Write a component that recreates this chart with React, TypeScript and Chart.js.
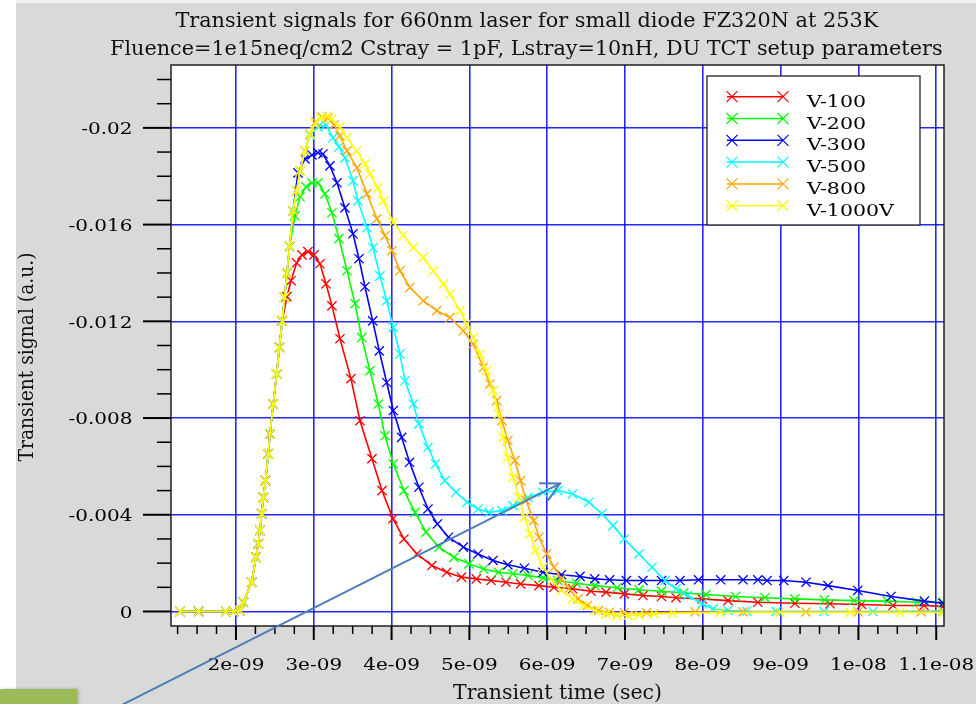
import { useEffect, useRef } from "react";
import { Chart, registerables } from "chart.js";

Chart.register(...registerables);

// ---- data -------------------------------------------------------------
const seriesLabels = ["V-100", "V-200", "V-300", "V-500", "V-800", "V-1000V"];
const seriesColors = ["#ff0000", "#00ff00", "#0000ff", "#00ffff", "#ffa500", "#ffff00"];

// shared leading edge: flat baseline, then the laser-driven rise (time in ns)
const leadTimeNs = [1.28, 1.52, 1.87, 1.97, 2.051, 2.094, 2.202, 2.257, 2.287, 2.308, 2.33, 2.351, 2.38, 2.415, 2.437, 2.479, 2.523, 2.557, 2.595, 2.625, 2.655, 2.69, 2.733, 2.78, 2.823, 2.887, 2.951, 3.015, 3.08, 3.166, 3.23];
const leadSignal = [0, 0, 0, 0, -0.00004, -0.00038, -0.00121, -0.00224, -0.0028, -0.00335, -0.00404, -0.00472, -0.00541, -0.00652, -0.00734, -0.00858, -0.00982, -0.01092, -0.01202, -0.013, -0.014, -0.0151, -0.01657, -0.0174, -0.01822, -0.01905, -0.01975, -0.02016, -0.02041, -0.02049, -0.02037];

const v100TimeNs = [...leadTimeNs.slice(0, 19), 2.656, 2.707, 2.78, 2.848, 2.925, 3.003, 3.08, 3.157, 3.234, 3.337, 3.478, 3.594, 3.748, 3.877, 4.018, 4.159, 4.326, 4.518, 4.708, 4.898, 5.089, 5.278, 5.47, 5.659, 5.895, 6.087, 6.326, 6.563, 6.756, 6.992, 7.231, 7.469, 7.656, 7.99, 8.324, 8.707, 9.183, 9.635, 10.04, 10.445, 10.843, 11.088];
const v100Signal = [...leadSignal.slice(0, 19), -0.01302, -0.01368, -0.01442, -0.01475, -0.01488, -0.01475, -0.01438, -0.01355, -0.01264, -0.01128, -0.00963, -0.00789, -0.00632, -0.005, -0.00384, -0.003, -0.00238, -0.0019, -0.00162, -0.00142, -0.00135, -0.00128, -0.00121, -0.00114, -0.00107, -0.001, -0.00094, -0.00084, -0.0008, -0.00073, -0.00066, -0.00062, -0.00057, -0.00052, -0.00045, -0.00038, -0.00034, -0.00032, -0.00029, -0.00025, -0.00025, -0.00021];

const v200TimeNs = [...leadTimeNs.slice(0, 22), 2.758, 2.823, 2.9, 2.977, 3.054, 3.144, 3.234, 3.324, 3.427, 3.53, 3.616, 3.722, 3.829, 3.915, 4.022, 4.159, 4.301, 4.442, 4.609, 4.802, 4.995, 5.184, 5.374, 5.56, 5.753, 5.946, 6.136, 6.374, 6.612, 6.897, 7.18, 7.469, 7.754, 8.041, 8.422, 8.799, 9.183, 9.563, 9.943, 10.373, 10.753, 11.087];
const v200Signal = [...leadSignal.slice(0, 22), -0.01636, -0.01715, -0.01756, -0.01773, -0.01773, -0.01727, -0.01649, -0.01542, -0.01409, -0.01273, -0.01133, -0.00996, -0.00858, -0.00727, -0.0061, -0.005, -0.0041, -0.00328, -0.00266, -0.00224, -0.00197, -0.00176, -0.00162, -0.00156, -0.00149, -0.00139, -0.00128, -0.00117, -0.00107, -0.00098, -0.0009, -0.00084, -0.00077, -0.0007, -0.00062, -0.00057, -0.00052, -0.00048, -0.00045, -0.00043, -0.00038, -0.00038];

const v300TimeNs = [...leadTimeNs.slice(0, 23), 2.797, 2.887, 2.977, 3.054, 3.118, 3.208, 3.298, 3.401, 3.504, 3.581, 3.658, 3.757, 3.842, 3.937, 4.022, 4.13, 4.231, 4.351, 4.468, 4.589, 4.731, 4.922, 5.111, 5.303, 5.494, 5.707, 5.946, 6.184, 6.422, 6.612, 6.802, 7.017, 7.231, 7.469, 7.707, 7.945, 8.23, 8.517, 8.707, 8.825, 9.04, 9.326, 9.609, 9.992, 10.419, 10.848, 11.087];
const v300Signal = [...leadSignal.slice(0, 23), -0.01814, -0.01872, -0.01888, -0.01897, -0.01892, -0.01843, -0.01773, -0.01669, -0.01562, -0.01459, -0.01343, -0.01202, -0.01078, -0.00947, -0.00831, -0.0072, -0.00617, -0.00514, -0.00424, -0.00362, -0.00307, -0.00266, -0.00238, -0.00211, -0.00193, -0.00179, -0.00162, -0.00152, -0.00145, -0.00135, -0.00131, -0.00128, -0.00128, -0.00128, -0.00128, -0.00131, -0.00131, -0.00131, -0.00131, -0.00128, -0.00128, -0.00121, -0.00107, -0.00087, -0.00062, -0.00043, -0.00034];

const v500TimeNs = [...leadTimeNs.slice(0, 26), 2.951, 3.054, 3.157, 3.247, 3.324, 3.401, 3.504, 3.568, 3.684, 3.761, 3.851, 3.937, 4.022, 4.108, 4.172, 4.279, 4.351, 4.468, 4.566, 4.684, 4.828, 4.969, 5.111, 5.252, 5.419, 5.56, 5.753, 5.946, 6.136, 6.326, 6.537, 6.704, 6.846, 6.992, 7.18, 7.347, 7.514, 7.656, 7.802, 7.99, 8.131, 8.324, 8.564, 8.941, 9.558, 10.188, 11.087];
const v500Signal = [...leadSignal.slice(0, 26), -0.01971, -0.02004, -0.02012, -0.01959, -0.01921, -0.01876, -0.01781, -0.01698, -0.01587, -0.01504, -0.01388, -0.01285, -0.01175, -0.01065, -0.00954, -0.00858, -0.00776, -0.00679, -0.0061, -0.00541, -0.00493, -0.00452, -0.00424, -0.0041, -0.00417, -0.00438, -0.00472, -0.00493, -0.005, -0.00486, -0.00452, -0.00404, -0.00355, -0.003, -0.00238, -0.00183, -0.00128, -0.00094, -0.00066, -0.00032, -0.00011, -0.00004, -0.00001, 0, 0, 0, -0.00002];

const v800TimeNs = [...leadTimeNs.slice(0, 27), 3.028, 3.105, 3.183, 3.26, 3.337, 3.427, 3.555, 3.684, 3.812, 3.915, 4.005, 4.108, 4.237, 4.407, 4.58, 4.751, 4.922, 5.05, 5.179, 5.265, 5.351, 5.419, 5.494, 5.586, 5.659, 5.728, 5.827, 5.895, 5.994, 6.087, 6.184, 6.28, 6.396, 6.517, 6.659, 6.802, 6.992, 7.279, 7.9, 8.517, 9.326, 9.995, 10.805, 11.087];
const v800Signal = [...leadSignal.slice(0, 27), -0.02025, -0.02045, -0.02041, -0.02012, -0.01967, -0.01905, -0.01835, -0.01727, -0.01624, -0.01554, -0.01492, -0.01409, -0.0134, -0.01285, -0.01244, -0.01216, -0.01161, -0.01106, -0.01009, -0.00941, -0.00872, -0.00789, -0.00707, -0.00624, -0.00541, -0.00459, -0.00376, -0.00307, -0.00238, -0.00183, -0.00135, -0.00094, -0.00052, -0.00025, -0.00004, 0.00003, 0.00005, 0.00005, 0.00002, 0.00002, 0.00002, 0.00002, 0.00002, 0.00002];

const v1000TimeNs = [...leadTimeNs, 3.337, 3.427, 3.551, 3.658, 3.722, 3.825, 3.893, 4.022, 4.15, 4.279, 4.407, 4.536, 4.665, 4.751, 4.879, 4.965, 5.05, 5.136, 5.222, 5.307, 5.372, 5.436, 5.494, 5.56, 5.638, 5.707, 5.779, 5.851, 5.946, 6.062, 6.184, 6.326, 6.469, 6.612, 6.756, 6.897, 7.039, 7.18, 7.373, 7.612, 8.221, 8.992, 9.892, 10.535, 11.087];
const v1000Signal = [...leadSignal, -0.02004, -0.01959, -0.01905, -0.01851, -0.0181, -0.01752, -0.01698, -0.01609, -0.01555, -0.01505, -0.01464, -0.01409, -0.01354, -0.01313, -0.01244, -0.01189, -0.01133, -0.01065, -0.00996, -0.00913, -0.00817, -0.0072, -0.00638, -0.00555, -0.00472, -0.0039, -0.00321, -0.00252, -0.00183, -0.00128, -0.00087, -0.00052, -0.00025, -0.00004, 0.0001, 0.00017, 0.00017, 0.00014, 0.0001, 0.00007, 0.00004, 0.00004, 0.00004, 0.00004, 0.00004];

const seriesTimes = [v100TimeNs, v200TimeNs, v300TimeNs, v500TimeNs, v800TimeNs, v1000TimeNs];
const seriesSignals = [v100Signal, v200Signal, v300Signal, v500Signal, v800Signal, v1000Signal];

// axes
const xRangeNs = [1.165, 11.1];
const yRange = [-0.0226, 0.0006];
const xTickNs = [2, 3, 4, 5, 6, 7, 8, 9, 10, 11];
const xTickLabels = ["2e-09", "3e-09", "4e-09", "5e-09", "6e-09", "7e-09", "8e-09", "9e-09", "1e-08", "1.1e-08"];
const yTickValues = [-0.02, -0.016, -0.012, -0.008, -0.004, 0];
const yTickLabels = ["-0.02", "-0.016", "-0.012", "-0.008", "-0.004", "0"];

const titleLines = [
  "Transient signals for 660nm laser for small diode FZ320N at 253K",
  "Fluence=1e15neq/cm2 Cstray = 1pF, Lstray=10nH, DU TCT setup parameters",
];
const xTitle = "Transient time (sec)";
const yTitle = "Transient signal (a.u.)";

// callout arrow towards the second bump of V-500
const arrowFrom = { timeNs: 0.548, signal: 0.00384 };
const arrowTo = { timeNs: 6.164, signal: -0.00529 };

// ---- drawing helpers ----------------------------------------------------
const FONT = '"DejaVu Serif", serif';

function drawText(ctx: CanvasRenderingContext2D, text: string, x: number, y: number, size: number, sx: number, align: "left" | "center" | "right") {
  ctx.save();
  ctx.font = `${size}px ${FONT}`;
  ctx.textAlign = "left";
  ctx.textBaseline = "alphabetic";
  const w = ctx.measureText(text).width * sx;
  const x0 = align === "center" ? x - w / 2 : align === "right" ? x - w : x;
  ctx.translate(x0, y);
  ctx.scale(sx, 1);
  ctx.fillText(text, 0, 0);
  ctx.restore();
}

function drawFitted(ctx: CanvasRenderingContext2D, text: string, cx: number, y: number, size: number, width: number) {
  ctx.save();
  ctx.font = `${size}px ${FONT}`;
  const sx = width / ctx.measureText(text).width;
  ctx.restore();
  drawText(ctx, text, cx, y, size, sx, "center");
}

function drawCross(ctx: CanvasRenderingContext2D, x: number, y: number, h: number) {
  ctx.beginPath();
  ctx.moveTo(x - h, y - h);
  ctx.lineTo(x + h, y + h);
  ctx.moveTo(x - h, y + h);
  ctx.lineTo(x + h, y - h);
  ctx.stroke();
}

const framePlugin = {
  id: "frame",
  beforeDraw(chart: any) {
    const { ctx, width, height, chartArea: a } = chart;
    ctx.save();
    ctx.fillStyle = "#d9d9d9";
    ctx.fillRect(0, 0, width, height);
    ctx.fillStyle = "#ffffff";
    ctx.fillRect(0, 0, 16, height);
    ctx.fillStyle = "#f2f2f2";
    ctx.fillRect(16, 0, width - 16, 3);
    ctx.fillStyle = "#ffffff";
    ctx.fillRect(a.left, a.top, a.right - a.left, a.bottom - a.top);
    ctx.restore();
  },
  afterDraw(chart: any) {
    const { ctx, chartArea: a } = chart;
    const xs = chart.scales.x;
    const ys = chart.scales.y;
    ctx.save();

    // plot frame
    ctx.strokeStyle = "#111";
    ctx.lineWidth = 1.4;
    ctx.strokeRect(a.left, a.top, a.right - a.left, a.bottom - a.top);

    // outward ticks
    ctx.strokeStyle = "#000";
    for (let k = 0; k <= 22; k++) {
      const py = ys.getPixelForValue(-k * 0.001);
      const major = k % 4 === 0;
      ctx.lineWidth = major ? 2 : 1.5;
      ctx.beginPath();
      ctx.moveTo(a.left - (major ? 28 : 14), py);
      ctx.lineTo(a.left, py);
      ctx.stroke();
    }
    for (let k = 5; k <= 44; k++) {
      const px = xs.getPixelForValue(k * 0.25e-9);
      if (px > a.right) break;
      const major = k % 4 === 0;
      ctx.lineWidth = major ? 2 : 1.5;
      ctx.beginPath();
      ctx.moveTo(px, a.bottom);
      ctx.lineTo(px, a.bottom + (major ? 14 : 8));
      ctx.stroke();
    }

    // tick labels
    ctx.fillStyle = "#000";
    yTickValues.forEach((v, i) => {
      drawText(ctx, yTickLabels[i], a.left - 38.5, ys.getPixelForValue(v) + 6.4, 17.4, 1.15, "right");
    });
    xTickNs.forEach((n, i) => {
      drawText(ctx, xTickLabels[i], xs.getPixelForValue(n * 1e-9), 670, 17.4, 1.15, "center");
    });

    // titles
    ctx.fillStyle = "#111";
    drawFitted(ctx, titleLines[0], 526.8, 27, 20.5, 702.8);
    drawFitted(ctx, titleLines[1], 526.3, 54.5, 20.5, 832.5);
    drawFitted(ctx, xTitle, (a.left + a.right) / 2, 699.3, 19.6, 209);
    ctx.save();
    ctx.translate(33, 357);
    ctx.rotate(-Math.PI / 2);
    ctx.scale(1, 1.1);
    drawFitted(ctx, yTitle, 0, 0, 18.8, 209);
    ctx.restore();

    // legend
    const box = { left: 707, top: 76, right: 920, bottom: 225 };
    ctx.fillStyle = "#ffffff";
    ctx.fillRect(box.left, box.top, box.right - box.left, box.bottom - box.top);
    ctx.strokeStyle = "#222";
    ctx.lineWidth = 1.3;
    ctx.strokeRect(box.left, box.top, box.right - box.left, box.bottom - box.top);
    seriesLabels.forEach((label, i) => {
      const y = 96.7 + i * 21.8;
      ctx.strokeStyle = seriesColors[i];
      ctx.lineWidth = 1.5;
      ctx.beginPath();
      ctx.moveTo(727, y);
      ctx.lineTo(783, y);
      ctx.stroke();
      ctx.lineWidth = 1.2;
      drawCross(ctx, 732, y, 5.5);
      drawCross(ctx, 783, y, 5.5);
      ctx.fillStyle = "#000";
      drawText(ctx, label, 807, y + 10, 17.4, 1.18, "left");
    });

    // slide decorations: green tab and callout arrow
    ctx.save();
    ctx.shadowColor = "rgba(0,0,0,0.25)";
    ctx.shadowBlur = 3;
    ctx.shadowOffsetX = 1.5;
    ctx.fillStyle = "#9bbb59";
    ctx.fillRect(0, 689, 77, 20);
    ctx.restore();

    const fx = xs.getPixelForValue(arrowFrom.timeNs * 1e-9);
    const fy = ys.getPixelForValue(arrowFrom.signal);
    const tx = xs.getPixelForValue(arrowTo.timeNs * 1e-9);
    const ty = ys.getPixelForValue(arrowTo.signal);
    ctx.strokeStyle = "#4a7ebb";
    ctx.lineWidth = 2;
    ctx.lineCap = "round";
    ctx.beginPath();
    ctx.moveTo(fx, fy);
    ctx.lineTo(tx, ty);
    ctx.stroke();
    const ang = Math.atan2(fy - ty, fx - tx);
    const barb = 20;
    const spread = (28 * Math.PI) / 180;
    ctx.beginPath();
    ctx.moveTo(tx + barb * Math.cos(ang + spread), ty + barb * Math.sin(ang + spread));
    ctx.lineTo(tx, ty);
    ctx.lineTo(tx + barb * Math.cos(ang - spread), ty + barb * Math.sin(ang - spread));
    ctx.stroke();

    ctx.restore();
  },
};

export default function App() {
  const canvasRef = useRef<HTMLCanvasElement | null>(null);

  useEffect(() => {
    document.body.style.margin = "0";
    document.body.style.overflow = "hidden";
    const canvas = canvasRef.current;
    if (!canvas) return;

    const datasets = seriesLabels.map((label, i) => ({
      label,
      data: seriesTimes[i].map((t, k) => ({ x: t * 1e-9, y: seriesSignals[i][k] })),
      borderColor: seriesColors[i],
      backgroundColor: seriesColors[i],
      pointBorderColor: seriesColors[i],
      borderWidth: 1.6,
      pointStyle: "crossRot" as const,
      pointRadius: 6.5,
      pointBorderWidth: 1.3,
      tension: 0,
      order: seriesLabels.length - 1 - i,
    }));

    const chart = new Chart(canvas, {
      type: "line",
      data: { datasets },
      options: {
        responsive: false,
        animation: false,
        events: [],
        layout: { padding: { left: 171, top: 65, right: 32, bottom: 78 } },
        plugins: {
          legend: { display: false },
          tooltip: { enabled: false },
          title: { display: false },
        },
        scales: {
          x: {
            type: "linear",
            min: xRangeNs[0] * 1e-9,
            max: xRangeNs[1] * 1e-9,
            afterBuildTicks: (s: any) => {
              s.ticks = xTickNs.map((n) => ({ value: n * 1e-9 }));
            },
            afterFit: (s: any) => {
              s.height = 0;
            },
            ticks: { display: false },
            border: { display: false },
            grid: { color: "rgba(0,0,255,0.85)", lineWidth: 1.6, drawTicks: false },
          },
          y: {
            type: "linear",
            reverse: true,
            min: yRange[0],
            max: yRange[1],
            afterBuildTicks: (s: any) => {
              s.ticks = yTickValues.map((v) => ({ value: v }));
            },
            afterFit: (s: any) => {
              s.width = 0;
            },
            ticks: { display: false },
            border: { display: false },
            grid: { color: "rgba(0,0,255,0.85)", lineWidth: 1.6, drawTicks: false },
          },
        },
      },
      plugins: [framePlugin],
    });

    return () => chart.destroy();
  }, []);

  return <canvas ref={canvasRef} width={976} height={704} style={{ display: "block" }} />;
}
